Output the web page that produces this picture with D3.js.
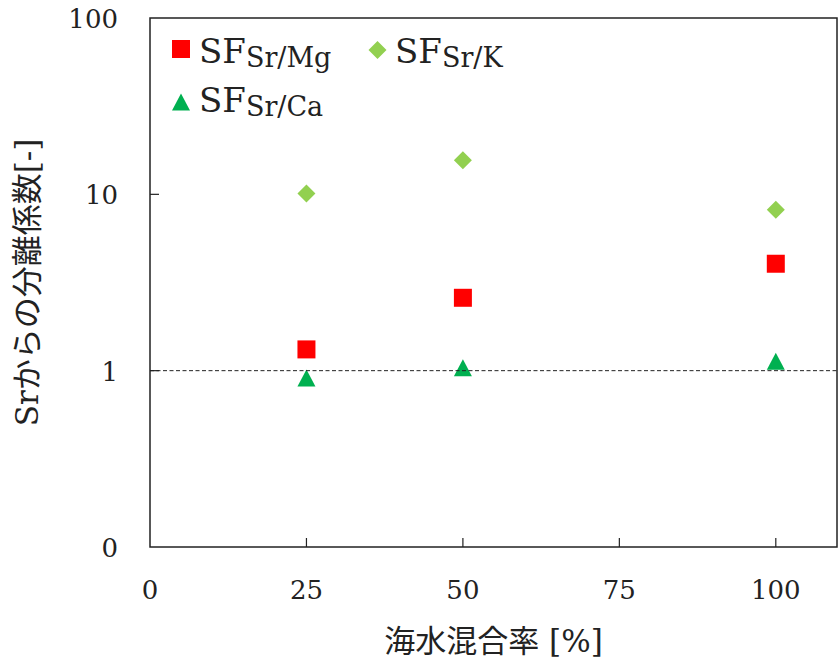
<!DOCTYPE html>
<html>
<head>
<meta charset="utf-8">
<script src="https://cdn.jsdelivr.net/npm/d3@7"></script>
<style>
  html, body { margin: 0; padding: 0; background: #fff; }
  svg { display: block; }
</style>
</head>
<body>
<svg id="chart" width="838" height="661"></svg>
<script>
// Seawater mixing ratio [%]
const mixRatio = [25, 50, 100];
// Separation factors of Sr against each ion
const sfSrMg = [1.32, 2.59, 4.04];
const sfSrK  = [10.1, 15.6, 8.17];
const sfSrCa = [0.91, 1.04, 1.13];

const xTicks = [0, 25, 50, 75, 100];
const yTicks = [0.1, 1, 10, 100];
const yTickLabels = ["0", "1", "10", "100"];

const series = [
  { sub: "Sr/Mg", values: sfSrMg, shape: "square",   color: "#FF0000" },
  { sub: "Sr/K",  values: sfSrK,  shape: "diamond",  color: "#92D050" },
  { sub: "Sr/Ca", values: sfSrCa, shape: "triangle", color: "#00B050" }
];

const svg = d3.select("#chart");
const plotL = 150, plotR = 837, plotT = 18, plotB = 547;

const x = d3.scaleLinear().domain([0, 110]).range([plotL, plotL + 110 * 6.258]);
const y = d3.scaleLog().domain([0.1, 100]).range([plotB, plotT]);

// Latin glyphs from the serif face, Japanese falls back to the CJK face
const serif = "'DejaVu Serif', 'Noto Sans CJK JP', serif";

// marker outline centred on (0,0), drawn inside an 18px box
function markerPath(shape) {
  const h = 9;
  if (shape === "square") return `M${-h},${-h}H${h}V${h}H${-h}Z`;
  if (shape === "diamond") return `M0,${-h}L${h},0L0,${h}L${-h},0Z`;
  return `M0,${-8.5}L${h},8.5L${-h},8.5Z`;
}

// plot frame
svg.append("rect")
  .attr("x", plotL).attr("y", plotT)
  .attr("width", plotR - plotL).attr("height", plotB - plotT)
  .attr("fill", "none").attr("stroke", "#222").attr("stroke-width", 1.5);

// inward tick marks
const tickLen = 9;
svg.append("g").selectAll("line")
  .data(xTicks.slice(1))
  .join("line")
  .attr("x1", d => x(d)).attr("x2", d => x(d))
  .attr("y1", plotB).attr("y2", plotB - tickLen)
  .attr("stroke", "#222").attr("stroke-width", 1.2);

svg.append("g").selectAll("line")
  .data(yTicks.slice(1, -1))
  .join("line")
  .attr("x1", plotL).attr("x2", plotL + tickLen)
  .attr("y1", d => y(d)).attr("y2", d => y(d))
  .attr("stroke", "#222").attr("stroke-width", 1.2);

// tick labels
svg.append("g").selectAll("text")
  .data(xTicks)
  .join("text")
  .attr("x", d => x(d)).attr("y", 599)
  .attr("text-anchor", "middle")
  .attr("font-family", serif).attr("font-size", 26).attr("fill", "#222")
  .text(d => d);

svg.append("g").selectAll("text")
  .data(yTicks)
  .join("text")
  .attr("x", 118).attr("y", d => y(d) + 10)
  .attr("text-anchor", "end")
  .attr("font-family", serif).attr("font-size", 26).attr("fill", "#222")
  .text((d, i) => yTickLabels[i]);

// axis titles
svg.append("text")
  .attr("x", (plotL + plotR) / 2).attr("y", 652)
  .attr("text-anchor", "middle")
  .attr("font-family", serif).attr("font-size", 31).attr("fill", "#222")
  .text("海水混合率 [%]");

svg.append("text")
  .attr("transform", `translate(38,${(plotT + plotB) / 2}) rotate(-90)`)
  .attr("text-anchor", "middle")
  .attr("font-family", serif).attr("font-size", 31).attr("fill", "#222")
  .text("Srからの分離係数[-]");

// data markers
series.forEach(s => {
  svg.append("g").selectAll("path")
    .data(s.values)
    .join("path")
    .attr("transform", (d, i) => `translate(${x(mixRatio[i])},${y(d)})`)
    .attr("d", markerPath(s.shape))
    .attr("fill", s.color);
});

// reference line at SF = 1
svg.append("line")
  .attr("x1", plotL).attr("x2", plotR)
  .attr("y1", y(1)).attr("y2", y(1))
  .attr("stroke", "#222").attr("stroke-width", 1)
  .attr("stroke-dasharray", "4,2.5");

// legend
const legendPos = [
  { mx: 181, my: 49, tx: 199, ty: 63 },
  { mx: 377.5, my: 50, tx: 395, ty: 63 },
  { mx: 181, my: 102, tx: 199, ty: 112 }
];
series.forEach((s, i) => {
  const p = legendPos[i];
  svg.append("path")
    .attr("transform", `translate(${p.mx},${p.my})`)
    .attr("d", markerPath(s.shape))
    .attr("fill", s.color);
  const t = svg.append("text")
    .attr("x", p.tx).attr("y", p.ty)
    .attr("font-family", serif).attr("fill", "#222");
  t.append("tspan").attr("font-size", 34).text("SF");
  t.append("tspan").attr("font-size", 27).attr("dy", 4).text(s.sub);
});
</script>
</body>
</html>
